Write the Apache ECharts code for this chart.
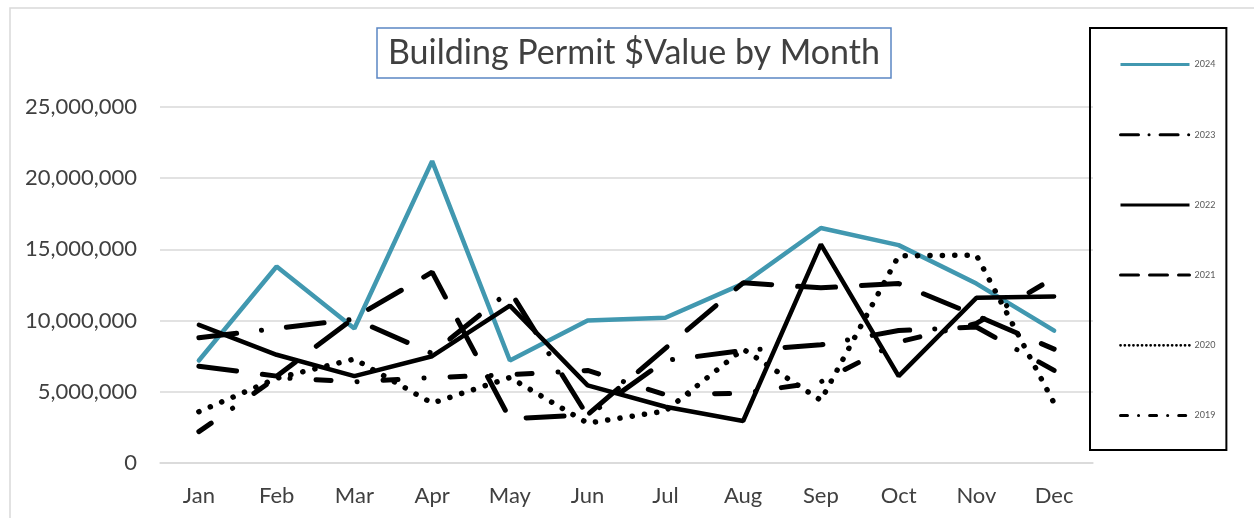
<!DOCTYPE html>
<html><head><meta charset="utf-8">
<script src="https://cdn.jsdelivr.net/npm/echarts@6/dist/echarts.min.js"></script>
<style>html,body{margin:0;padding:0;background:#fff}#c{width:1254px;height:518px}</style>
</head><body><div id="c"></div>
<script>
const months = ['Jan','Feb','Mar','Apr','May','Jun','Jul','Aug','Sep','Oct','Nov','Dec'];
const yMin = 0, yMax = 25000000, yStep = 5000000;
const v2024 = [7200000, 13800000, 9450000, 21200000, 7200000, 10000000, 10200000, 12600000, 16500000, 15300000, 12600000, 9300000];
const v2023 = [8800000, 9450000, 10100000, 7700000, 12100000, 3300000, 7200000, 7900000, 8300000, 9300000, 9550000, 6500000];
const v2022 = [9700000, 7600000, 6100000, 7500000, 11050000, 5450000, 3950000, 2950000, 15350000, 6100000, 11600000, 11700000];
const v2021 = [6800000, 6100000, 10200000, 13400000, 3100000, 3400000, 8050000, 12650000, 12300000, 12600000, 10350000, 8000000];
const v2020 = [3600000, 5950000, 7300000, 4200000, 6000000, 2800000, 3650000, 8000000, 4400000, 14550000, 14600000, 4200000];
const v2019 = [2200000, 6000000, 5700000, 6000000, 6200000, 6500000, 4800000, 4900000, 5700000, 8500000, 9800000, 13000000];
const seriesNames = ['2024','2023','2022','2021','2020','2019'];

const FONT = 'Lato';
const TEAL = '#4198b0';
const styles = {
  '2024': {color: TEAL, width: 4.5, type: 'solid', cap: 'round'},
  '2023': {color: '#000', width: 5, type: [38, 25, 0.1, 25], cap: 'round'},
  '2022': {color: '#000', width: 4.5, type: 'solid', cap: 'round'},
  '2021': {color: '#000', width: 5, type: [38, 26], cap: 'round'},
  '2020': {color: '#000', width: 5.5, type: [0.1, 12.3], cap: 'round'},
  '2019': {color: '#000', width: 5, type: [15, 26, 0.1, 26], cap: 'round'}
};
const legendStyles = {
  '2024': {color: TEAL, width: 3, type: 'solid', cap: 'butt'},
  '2023': {color: '#000', width: 3, type: [18, 10.5, 0.1, 11], cap: 'round'},
  '2022': {color: '#000', width: 3, type: 'solid', cap: 'butt'},
  '2021': {color: '#000', width: 3, type: [18, 11], cap: 'round'},
  '2020': {color: '#000', width: 2.7, type: [0.1, 4.2], cap: 'round'},
  '2019': {color: '#000', width: 3, type: [7, 11, 0.1, 11], cap: 'round'}
};
const dataMap = {'2024': v2024, '2023': v2023, '2022': v2022, '2021': v2021, '2020': v2020, '2019': v2019};

const chart = echarts.init(document.getElementById('c'), null, {renderer: 'canvas'});
chart.setOption({
  animation: false,
  backgroundColor: '#fff',
  title: {
    text: 'Building Permit $Value by Month',
    left: 377, top: 28,
    padding: [8, 11, 8, 11],
    borderColor: '#5b86c4', borderWidth: 1.5,
    textStyle: {fontFamily: FONT, fontSize: 34, fontWeight: 'normal', color: '#404040'}
  },
  graphic: [{
    type: 'rect', silent: true, z: -10,
    shape: {x: 10, y: 8, width: 1300, height: 600},
    style: {fill: 'none', stroke: '#d9d9d9', lineWidth: 1.5}
  }],
  legend: {
    orient: 'vertical', left: 1090, top: 28,
    itemWidth: 69, itemHeight: 10, itemGap: 61.2,
    padding: [32, 11, 30, 29],
    borderColor: '#000', borderWidth: 2,
    textStyle: {fontFamily: FONT, fontSize: 9, color: '#595959'},
    data: seriesNames.map(n => ({name: n, lineStyle: legendStyles[n], itemStyle: {color: legendStyles[n].color, opacity: 0}}))
  },
  grid: {left: 160, right: 161, top: 107, bottom: 55, containLabel: false},
  xAxis: {
    type: 'category', data: months, boundaryGap: true,
    axisTick: {show: false},
    axisLine: {lineStyle: {color: '#d9d9d9', width: 1.5}},
    axisLabel: {fontFamily: FONT, fontSize: 22, color: '#404040', margin: 22}
  },
  yAxis: {
    type: 'value', min: yMin, max: yMax, interval: yStep,
    axisLine: {show: false}, axisTick: {show: false},
    splitLine: {lineStyle: {color: '#d9d9d9', width: 1.5}},
    axisLabel: {fontFamily: FONT, fontSize: 22, color: '#404040', margin: 23,
      formatter: v => v.toLocaleString('en-US')}
  },
  series: seriesNames.map(n => ({
    name: n, type: 'line', data: dataMap[n], symbol: 'none', smooth: false,
    lineStyle: styles[n], itemStyle: {color: styles[n].color}
  }))
});
</script></body></html>
